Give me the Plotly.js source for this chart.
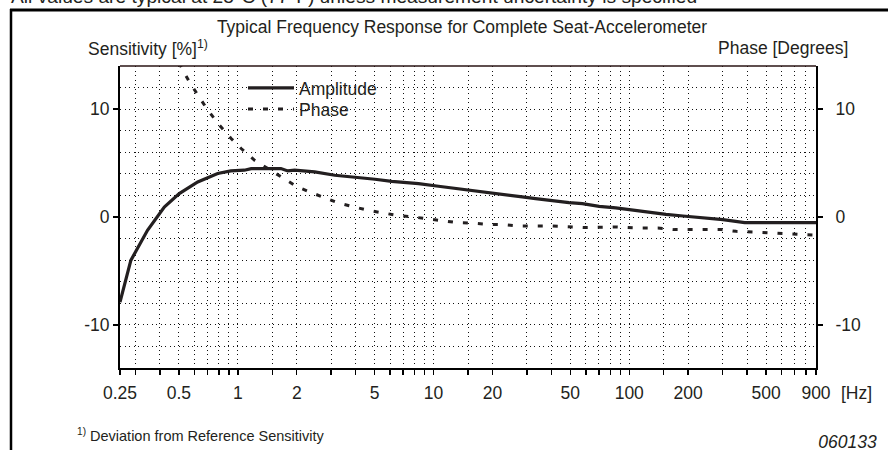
<!DOCTYPE html>
<html>
<head>
<meta charset="utf-8">
<script src="https://cdn.plot.ly/plotly-3.0.1.min.js"></script>
<style>html,body{margin:0;padding:0;background:#fff;}#chart{width:888px;height:450px;}</style>
</head>
<body>
<div id="chart"></div>
<script>
// Frequency [Hz] and amplitude deviation [%]
const ampFreq = [0.25, 0.284, 0.3455, 0.421, 0.502, 0.624, 0.789, 0.921, 1.08, 1.17, 1.66, 1.80, 1.95, 2.47, 3.13, 3.97, 5.02, 6.11, 8.38, 10.6, 12.9, 15.7, 19.1, 23.3, 28.4, 33.2, 40.5, 49.2, 57.6, 70.2, 85.4, 104, 127, 154, 188, 238, 301, 389, 900];
const ampValues = [-7.9, -4.02, -1.23, 0.93, 2.17, 3.25, 4.03, 4.27, 4.34, 4.49, 4.49, 4.27, 4.34, 4.18, 3.87, 3.71, 3.5, 3.31, 3.10, 2.85, 2.64, 2.48, 2.23, 2.01, 1.86, 1.71, 1.49, 1.34, 1.24, 0.99, 0.84, 0.62, 0.46, 0.25, 0.09, -0.06, -0.24, -0.52, -0.52];

// Frequency [Hz] and phase [degrees]
const phaseFreq = [0.5, 0.565, 0.702, 0.806, 0.924, 1.04, 1.218, 1.667, 1.99, 2.33, 2.78, 3.26, 3.94, 4.64, 5.54, 6.48, 7.89, 9.24, 11.0, 13.2, 15.7, 18.8, 22.9, 27.8, 40.5, 58.8, 85.4, 108, 140, 170, 295, 352, 429, 512, 611, 730, 871];
const phaseValues = [14.3, 12.53, 9.91, 8.51, 7.28, 6.35, 5.26, 3.71, 2.85, 2.32, 1.80, 1.30, 0.93, 0.62, 0.37, 0.16, 0.0, -0.15, -0.37, -0.52, -0.56, -0.68, -0.71, -0.84, -0.84, -0.98, -0.93, -1.02, -1.02, -1.17, -1.17, -1.33, -1.39, -1.45, -1.54, -1.61, -1.67];

// Axis ticks
const xTickVals = [0.25,0.3,0.4,0.5,0.6,0.7,0.8,0.9,1,1.5,2,3,4,5,6,7,8,9,10,15,20,30,40,50,60,70,80,90,100,150,200,300,400,500,600,700,800,900];
const xLabelled = [0.25,0.5,1,2,5,10,20,50,100,200,500,900];
const yTickVals = [-10, 0, 10];
const yTickText = ['-10', '0', '10'];
const yRange = [-14, 14];
const xRange = [0.25, 900];

const xTickText = xTickVals.map(v => xLabelled.includes(v) ? String(v) : '');

const FONT = 'Liberation Sans, Arial, Helvetica, sans-serif';
const INK = '#231f20';

// pixel helpers for the layout (plot area: x 120..816, y 66..368)
const L = 120, R = 72, T = 66, B = 82, W = 888, H = 450;
const pw = W - L - R, ph = H - T - B;
const px = x => (x - L) / pw;
const py = y => (H - B - y) / ph;

const traces = [
  {
    x: ampFreq, y: ampValues, name: 'Amplitude', type: 'scatter', mode: 'lines',
    line: {color: INK, width: 3.2}, yaxis: 'y', legend: 'legend'
  },
  {
    x: phaseFreq, y: phaseValues, name: 'Phase', type: 'scatter', mode: 'lines',
    line: {color: INK, width: 3, dash: '5px,10px'}, yaxis: 'y2', legend: 'legend2'
  }
];

const gridDash = '1px,3.5px';
const legendCommon = {
  xanchor: 'left', yanchor: 'top', bgcolor: 'rgba(0,0,0,0)', borderwidth: 0,
  font: {size: 17.5, color: INK, family: FONT}, itemwidth: 46
};

const layout = {
  width: W, height: H,
  margin: {l: L, r: R, t: T, b: B, pad: 0},
  paper_bgcolor: '#fff', plot_bgcolor: '#fff',
  font: {family: FONT, size: 17.5, color: INK},
  showlegend: true,
  legend: Object.assign({x: px(243), y: py(70)}, legendCommon),
  legend2: Object.assign({x: px(243), y: py(91)}, legendCommon),
  title: {
    text: 'Typical Frequency Response for Complete Seat-Accelerometer',
    font: {size: 17.5, color: INK, family: FONT},
    x: px(462), xref: 'paper', xanchor: 'center',
    y: 1 - 26.5 / H, yref: 'container', yanchor: 'middle'
  },
  xaxis: {
    type: 'log', range: xRange.map(Math.log10),
    tickmode: 'array', tickvals: xTickVals, ticktext: xTickText,
    ticks: 'outside', ticklen: 5, tickwidth: 1.5, tickcolor: '#000',
    showline: true, linewidth: 2, linecolor: '#000', mirror: false,
    showgrid: true, gridcolor: '#111', gridwidth: 1, griddash: gridDash,
    zeroline: false, tickfont: {size: 17.5, color: INK}, ticklabelstandoff: 3, fixedrange: true
  },
  yaxis: {
    range: yRange, tickmode: 'array', tickvals: yTickVals, ticktext: yTickText,
    ticks: 'outside', ticklen: 5, tickwidth: 2, tickcolor: '#000',
    showline: true, linewidth: 2, linecolor: '#000',
    showgrid: true, gridcolor: '#111', gridwidth: 1, griddash: gridDash,
    minor: {tickmode: 'linear', tick0: 0, dtick: 2, showgrid: true, gridcolor: '#111', gridwidth: 1, griddash: gridDash, ticks: ''},
    zeroline: false, tickfont: {size: 17.5, color: INK}, fixedrange: true
  },
  yaxis2: {
    range: yRange, overlaying: 'y', side: 'right', anchor: 'x',
    tickmode: 'array', tickvals: yTickVals, ticktext: yTickText,
    ticks: 'outside', ticklen: 5, tickwidth: 2, tickcolor: '#000',
    showline: true, linewidth: 2, linecolor: '#000',
    showgrid: false, zeroline: false, ticklabelstandoff: 9,
    tickfont: {size: 17.5, color: INK}, fixedrange: true
  },
  shapes: [
    // white legend panel covering the grid
    {type: 'rect', layer: 'between', xref: 'paper', yref: 'paper', x0: px(235), x1: px(393), y0: py(127), y1: py(73),
     fillcolor: '#fff', line: {width: 0}},
    // top border of plot area
    {type: 'line', xref: 'paper', yref: 'paper', x0: 0, x1: 1, y0: 1, y1: 1, line: {color: '#2a1515', width: 1.5}},
    // outer frame: top and left
    {type: 'line', xref: 'paper', yref: 'paper', x0: px(10), x1: px(W + 5), y0: py(10), y1: py(10), line: {color: '#000', width: 3}},
    {type: 'line', xref: 'paper', yref: 'paper', x0: px(11), x1: px(11), y0: py(9), y1: py(H + 5), line: {color: '#000', width: 2.5}}
  ],
  annotations: [
    {text: 'All values are typical at 25°C (77°F) unless measurement uncertainty is specified',
     xref: 'paper', yref: 'paper', x: px(9), y: py(-3.5), xanchor: 'left', yanchor: 'middle',
     showarrow: false, font: {size: 19.2, color: INK}},
    {text: 'Sensitivity [%]<sup>1)</sup>', xref: 'paper', yref: 'paper', x: px(86), y: py(48),
     xanchor: 'left', yanchor: 'middle', showarrow: false, font: {size: 17.5, color: INK}},
    {text: 'Phase [Degrees]', xref: 'paper', yref: 'paper', x: px(850), y: py(48),
     xanchor: 'right', yanchor: 'middle', showarrow: false, font: {size: 17.5, color: INK}},
    {text: '[Hz]', xref: 'paper', yref: 'paper', x: px(839), y: py(393),
     xanchor: 'left', yanchor: 'middle', showarrow: false, font: {size: 17.5, color: INK}},
    {text: '<sup>1)</sup> Deviation from Reference Sensitivity', xref: 'paper', yref: 'paper', x: px(75), y: py(435),
     xanchor: 'left', yanchor: 'middle', showarrow: false, font: {size: 14.5, color: INK}},
    {text: '<i>060133</i>', xref: 'paper', yref: 'paper', x: px(879), y: py(442), width: 72, align: 'right',
     xanchor: 'right', yanchor: 'middle', showarrow: false, font: {size: 17.5, color: INK}}
  ]
};

Plotly.newPlot('chart', traces, layout, {displayModeBar: false, staticPlot: true});
</script>
</body>
</html>
